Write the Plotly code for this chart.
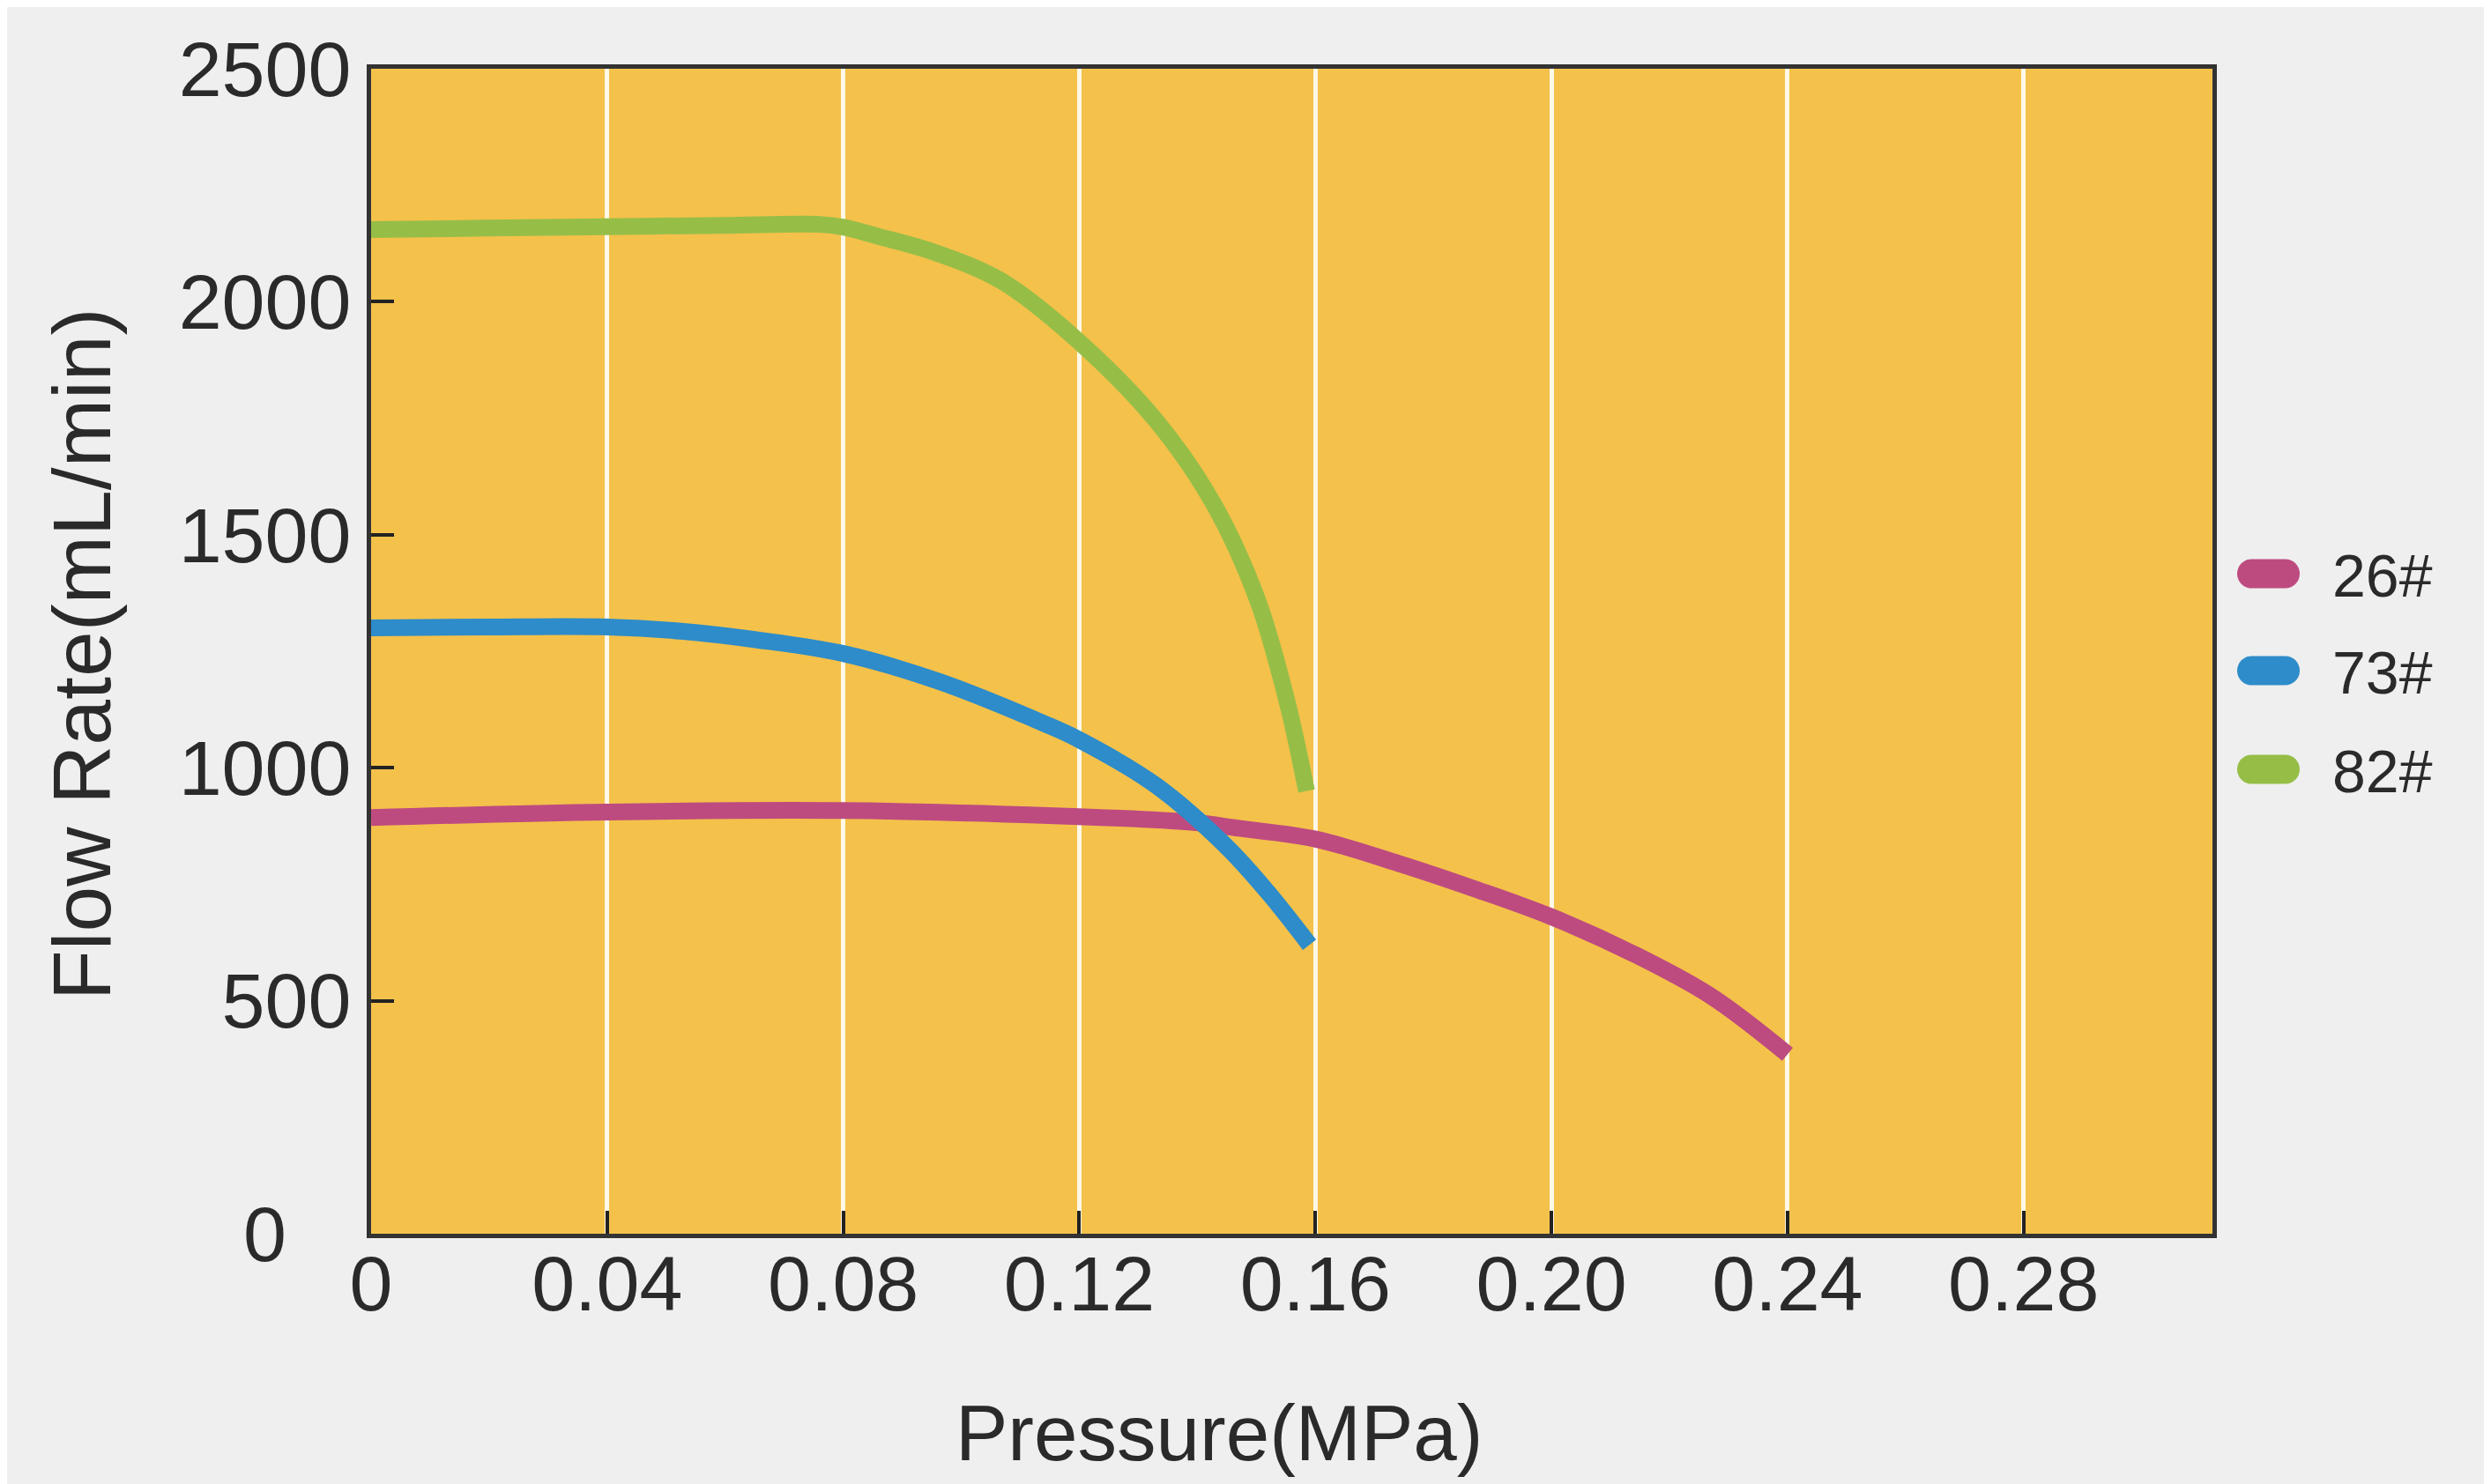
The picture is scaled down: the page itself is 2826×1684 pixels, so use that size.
import plotly.graph_objects as go

# ---- data ----
p26 = [0, 0.04, 0.08, 0.12, 0.139, 0.147, 0.16, 0.174, 0.187, 0.20, 0.214, 0.227, 0.24]
f26 = [893, 905, 908, 895, 883, 870, 847, 795, 740, 680, 600, 510, 385]

p73 = [0, 0.02, 0.04, 0.0525, 0.065, 0.08, 0.096, 0.114, 0.12, 0.133, 0.145, 0.152, 0.159]
f73 = [1300, 1302, 1302, 1293, 1275, 1245, 1186, 1095, 1060, 962, 830, 732, 620]

p82 = [0, 0.02, 0.04, 0.06, 0.076, 0.08, 0.086, 0.095, 0.1066, 0.119, 0.133, 0.1428, 0.1502, 0.1552, 0.1585]
f82 = [2155, 2158, 2161, 2164, 2166, 2160, 2140, 2108, 2046, 1925, 1745, 1565, 1360, 1142, 950]

series_names = ["26#", "73#", "82#"]
series_colors = ["#BD4B80", "#2D8CC9", "#96BE47"]

x_ticks = [0, 0.04, 0.08, 0.12, 0.16, 0.20, 0.24, 0.28]
x_tick_text = ["0", "0.04", "0.08", "0.12", "0.16", "0.20", "0.24", "0.28"]
y_ticks = [0, 500, 1000, 1500, 2000, 2500]
y_tick_text = ["0\u00a0\u00a0\u00a0", "500", "1000", "1500", "2000", "2500"]

FONT = "Liberation Sans, Arial, sans-serif"
TXT = "#2a2a2a"

W, H = 2826, 1684
ML, MR, MT, MB = 413, 324, 70, 292
PW, PH = W - ML - MR, H - MT - MB


def px_to_paper(px, py):
    return (px - ML) / PW, (H - MB - py) / PH


fig = go.Figure()
for xs, ys, name, col in zip([p26, p73, p82], [f26, f73, f82], series_names, series_colors):
    fig.add_trace(go.Scatter(
        x=xs, y=ys, name=name, mode="lines",
        line=dict(color=col, width=19, shape="spline", smoothing=1.0),
        showlegend=False,
    ))

# custom legend: thick pill swatches + text labels
shapes = []
annotations = []
leg_x0, leg_x1, leg_h = 2530, 2601, 33
leg_text_x = 2636
leg_rows = [643, 753, 865]
for name, col, cy in zip(series_names, series_colors, leg_rows):
    r = leg_h / 2
    ax, ay = px_to_paper(leg_x0 + r, cy - r)
    bx, by = px_to_paper(leg_x1 - r, cy - r)
    cx_, cy_ = px_to_paper(leg_x1 - r, cy + r)
    dx, dy = px_to_paper(leg_x0 + r, cy + r)
    k = 0.5523 * r
    kx = k / PW
    ky = k / PH
    mx1, my = px_to_paper(leg_x1, cy)
    mx0, _ = px_to_paper(leg_x0, cy)
    path = (
        f"M{ax},{ay} L{bx},{by} "
        f"C{bx + kx},{by} {mx1},{my + ky} {mx1},{my} "
        f"C{mx1},{my - ky} {cx_ + kx},{cy_} {cx_},{cy_} "
        f"L{dx},{dy} "
        f"C{dx - kx},{dy} {mx0},{my - ky} {mx0},{my} "
        f"C{mx0},{my + ky} {ax - kx},{ay} {ax},{ay} Z"
    )
    shapes.append(dict(type="path", path=path, xref="paper", yref="paper",
                       fillcolor=col, line=dict(width=0), layer="above"))
    tx, ty = px_to_paper(leg_text_x, cy + 2)
    annotations.append(dict(text=name, xref="paper", yref="paper", x=tx, y=ty,
                            xanchor="left", yanchor="middle", showarrow=False,
                            font=dict(size=68, color=TXT)))

annotations += [
    dict(text="Pressure(MPa)", xref="paper", yref="paper",
         x=0.4605, y=-0.171, xanchor="center", yanchor="middle",
         showarrow=False, font=dict(size=89, color=TXT)),
    dict(text="Flow Rate(mL/min)", xref="paper", yref="paper",
         x=-0.157, y=0.497, xanchor="center", yanchor="middle",
         textangle=-90, showarrow=False, font=dict(size=93, color=TXT)),
]

fig.update_layout(
    width=W, height=H,
    margin=dict(l=ML, r=MR, t=MT, b=MB),
    paper_bgcolor="#EFEFEF",
    plot_bgcolor="#F4C14B",
    font=dict(family=FONT, size=88, color=TXT),
    showlegend=False,
    xaxis=dict(
        range=[0, 0.312],
        tickvals=x_ticks, ticktext=x_tick_text,
        showgrid=True, gridcolor="#FFF8E6", gridwidth=5,
        zeroline=False,
        showline=True, linecolor="#333333", linewidth=5, mirror=True,
        ticks="inside", ticklen=26, tickwidth=4, tickcolor="#222222",
        ticklabelstandoff=-24,
        tickfont=dict(size=88, color=TXT),
    ),
    yaxis=dict(
        range=[0, 2500],
        tickvals=y_ticks, ticktext=y_tick_text,
        showgrid=False,
        zeroline=False,
        showline=True, linecolor="#333333", linewidth=5, mirror=True,
        ticks="inside", ticklen=26, tickwidth=4, tickcolor="#222222",
        ticklabelstandoff=0,
        tickfont=dict(size=88, color=TXT),
    ),
    shapes=shapes,
    annotations=annotations,
)

fig.write_html("out.html")
